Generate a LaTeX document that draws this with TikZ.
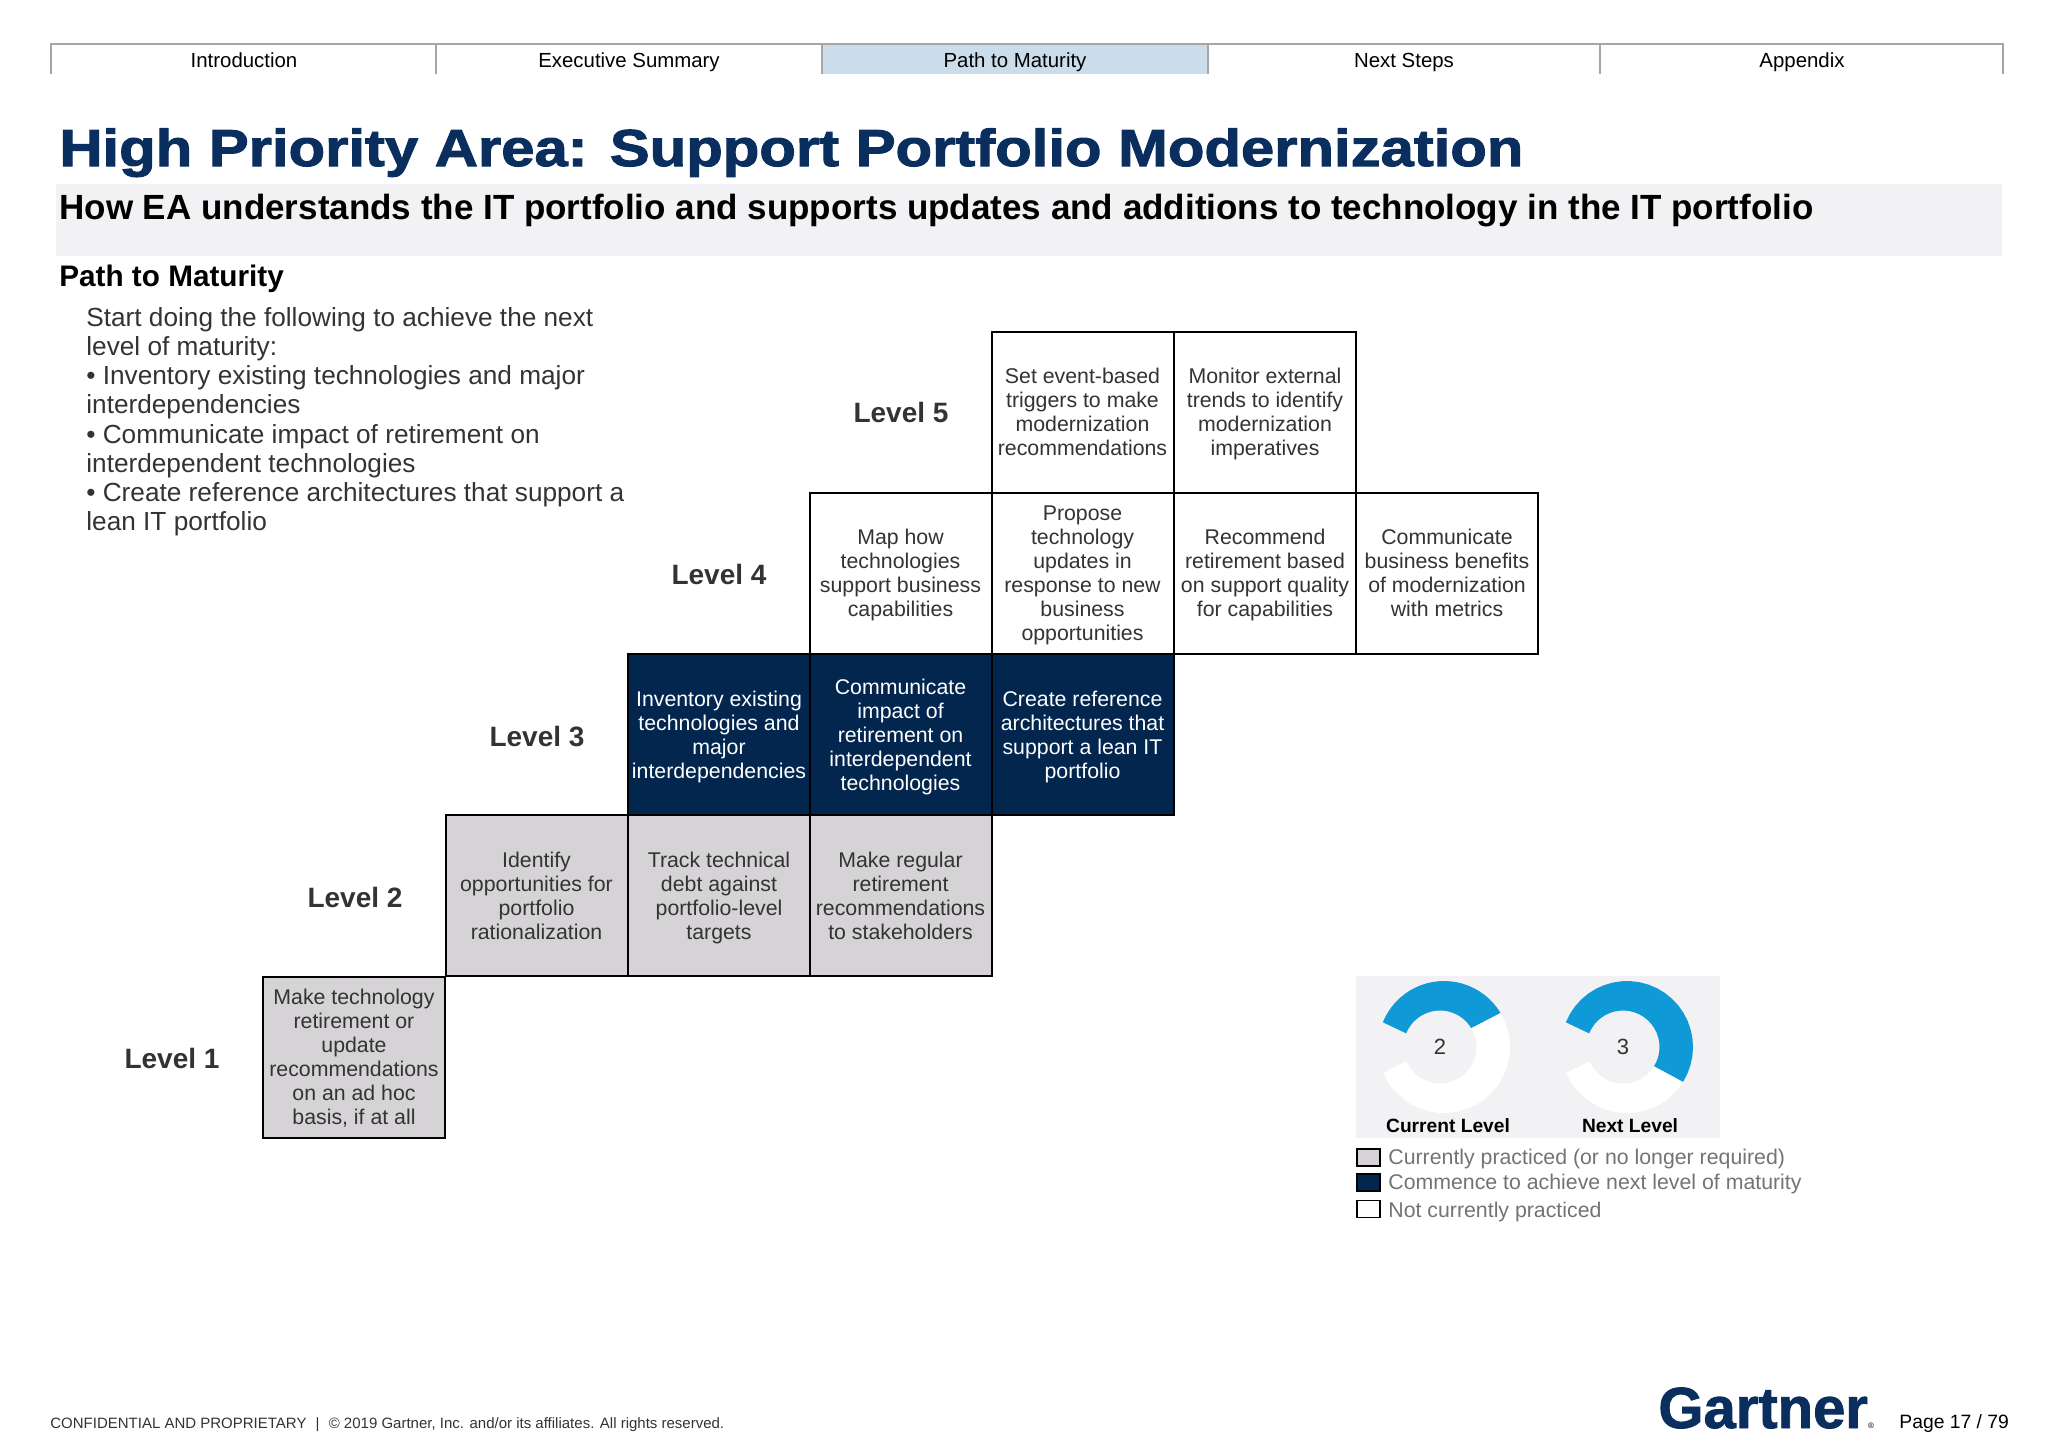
\documentclass[tikz,border=0pt]{standalone}
\usepackage{fontspec}
\setmainfont{Liberation Sans}
\newfontfamily\titlefont[FakeStretch=1.15,FakeBold=2]{Liberation Sans Bold}
\newfontfamily\logofont[FakeBold=1.5]{Liberation Sans Bold}
\definecolor{navyfill}{HTML}{03264F}
\definecolor{titlenavy}{HTML}{0A2F5F}
\definecolor{greyfill}{HTML}{D5D3D5}
\definecolor{bandgrey}{HTML}{F2F2F4}
\definecolor{ringblue}{HTML}{0F99D6}
\definecolor{tabblue}{HTML}{CBDCEA}
\definecolor{bodytext}{HTML}{333333}
\tikzset{
  cellbox/.style={draw=black, line width=1pt, minimum width=91pt, minimum height=80.5pt, inner sep=0pt, align=center, font=\fontsize{10.65}{12}\selectfont, execute at end node=\strut},
  cellgrey/.style={cellbox, fill=greyfill, text=bodytext},
  cellnavy/.style={cellbox, fill=navyfill, text=white},
  cellwhite/.style={cellbox, fill=white, text=bodytext},
  levellabel/.style={font=\fontsize{14}{16}\selectfont\bfseries, text=bodytext},
  tablabel/.style={anchor=base, font=\fontsize{10.2}{12}\selectfont},
  legendbox/.style={draw=black, line width=0.8pt, minimum width=11.5pt, minimum height=8.5pt, inner sep=0pt},
  legendtext/.style={anchor=base west, inner sep=0pt, text=black!55, font=\fontsize{10.65}{13}\selectfont},
  ringlabel/.style={anchor=base, font=\fontsize{9.6}{11}\selectfont\bfseries},
}
\newcommand{\celltop}{\rule{0pt}{11.2pt}}
\newcommand{\ringpart}[5]{%
  \fill[#5] plot[domain=#3:#4] ({#1+4+66*cos(\x)}, {#2-66*sin(\x)}) -- plot[domain=#4:#3] ({#1+36.5*cos(\x)}, {#2-36.5*sin(\x)}) -- cycle;}
\begin{document}
\begin{tikzpicture}[x=0.5pt, y=-0.5pt]
  \useasboundingbox (0,0) rectangle (2048,1447);
  % tabs
  \fill[tabblue] (822,44) rectangle (1208,74);
  \draw[black!35, line width=0.7pt] (51,74) -- (51,44) -- (2003,44) -- (2003,74);
  \foreach \tabx in {436,822,1208,1600}
    \draw[black!35, line width=0.7pt] (\tabx,44) -- (\tabx,74);
  \node[tablabel] (tabintro) at (244,67) {Introduction};
  \node[tablabel] (tabsummary) at (629,67) {Executive Summary};
  \node[tablabel] (tabpath) at (1015,67) {Path to Maturity};
  \node[tablabel] (tabnext) at (1404,67) {Next Steps};
  \node[tablabel] (tabappendix) at (1802,67) {Appendix};
  % heading
  \fill[bandgrey] (56,184) rectangle (2002,256);
  \node[anchor=base west, inner sep=0pt, text=titlenavy, font=\fontsize{26}{30}\titlefont] (title) at (59,166) {High Priority Area: Support Portfolio Modernization};
  \node[anchor=base west, inner sep=0pt, font=\fontsize{17.5}{20}\selectfont\bfseries] (subtitle) at (59,219) {How EA understands the IT portfolio and supports updates and additions to technology in the IT portfolio};
  \node[anchor=base west, inner sep=0pt, font=\fontsize{14.85}{17}\selectfont\bfseries] (pathhead) at (59,286) {Path to Maturity};
  \node[anchor=north west, inner sep=0pt, align=left, text=bodytext, font=\fontsize{13.1}{14.6}\selectfont] (intro) at (86,307) {Start doing the following to achieve the next\\level of maturity:\\• Inventory existing technologies and major\\interdependencies\\• Communicate impact of retirement on\\interdependent technologies\\• Create reference architectures that support a\\lean IT portfolio};
  % level 1 and 2
  \node[levellabel] (level1) at (172,1058) {Level 1};
  \node[cellgrey] (ad1) at (354,1057) {\celltop Make technology\\retirement or\\update\\recommendations\\on an ad hoc\\basis, if at all};
  \node[levellabel] (level2) at (355,897) {Level 2};
  \node[cellgrey] (id2) at (536.5,895.5) {\celltop Identify\\opportunities for\\portfolio\\rationalization};
  \node[cellgrey] (debt2) at (719,895.5) {\celltop Track technical\\debt against\\portfolio-level\\targets};
  \node[cellgrey] (regular2) at (900.5,895.5) {\celltop Make regular\\retirement\\recommendations\\to stakeholders};
  % level 3
  \node[levellabel] (level3) at (537,736) {Level 3};
  \node[cellnavy] (inv3) at (719,734.5) {\celltop Inventory existing\\technologies and\\major\\interdependencies};
  \node[cellnavy] (comm3) at (900.5,734.5) {\celltop Communicate\\impact of\\retirement on\\interdependent\\technologies};
  \node[cellnavy] (ref3) at (1082.5,734.5) {\celltop Create reference\\architectures that\\support a lean IT\\portfolio};
  % level 4
  \node[levellabel] (level4) at (719,574) {Level 4};
  \node[cellwhite] (map4) at (900.5,573) {\celltop Map how\\technologies\\support business\\capabilities};
  \node[cellwhite] (prop4) at (1082.5,573) {\celltop Propose\\technology\\updates in\\response to new\\business\\opportunities};
  \node[cellwhite] (rec4) at (1265,573) {\celltop Recommend\\retirement based\\on support quality\\for capabilities};
  \node[cellwhite] (ben4) at (1447,573) {\celltop Communicate\\business benefits\\of modernization\\with metrics};
  % level 5
  \node[levellabel] (level5) at (901,412) {Level 5};
  \node[cellwhite] (set5) at (1082.5,412) {\celltop Set event-based\\triggers to make\\modernization\\recommendations};
  \node[cellwhite] (mon5) at (1265,412) {\celltop Monitor external\\trends to identify\\modernization\\imperatives};
  % rings
  \fill[bandgrey] (1356,976) rectangle (1720,1138);
  \ringpart{1440}{1047}{31}{158}{ringblue}
  \ringpart{1440}{1047}{-157}{31}{white}
  \ringpart{1623}{1047}{-32}{158}{ringblue}
  \ringpart{1623}{1047}{-157}{-32}{white}
  \node[font=\fontsize{11}{12}\selectfont, text=bodytext] (num2) at (1440,1047) {2};
  \node[font=\fontsize{11}{12}\selectfont, text=bodytext] (num3) at (1623,1047) {3};
  \node[ringlabel] (current) at (1448,1132) {Current Level};
  \node[ringlabel] (nextlevel) at (1630,1132) {Next Level};
  % legend
  \node[legendbox, fill=greyfill] (keygrey) at (1368.5,1157.5) {};
  \node[legendbox, fill=navyfill] (keynavy) at (1368.5,1182.5) {};
  \node[legendbox, fill=white] (keywhite) at (1368.5,1209) {};
  \node[legendtext] (textgrey) at (1388,1164.5) {Currently practiced (or no longer required)};
  \node[legendtext] (textnavy) at (1388,1189.5) {Commence to achieve next level of maturity};
  \node[legendtext] (textwhite) at (1388,1217) {Not currently practiced};
  % footer
  \node[anchor=base west, inner sep=0pt, text=bodytext, font=\fontsize{7.5}{9}\selectfont] (footer) at (50,1428) {CONFIDENTIAL AND PROPRIETARY\, \,|\, \,© 2019 Gartner, Inc. and/or its affiliates. All rights reserved.};
  \node[anchor=base west, inner sep=0pt, text=titlenavy, font=\fontsize{29}{32}\logofont] (logo) at (1658,1428) {Gartner\raisebox{0pt}{\fontsize{4}{4}\selectfont\mdseries\textcolor{black!45}{®}}};
  \node[anchor=base west, inner sep=0pt, font=\fontsize{9.65}{12}\selectfont] (page) at (1899,1428) {Page 17 / 79};
\end{tikzpicture}
\end{document}
